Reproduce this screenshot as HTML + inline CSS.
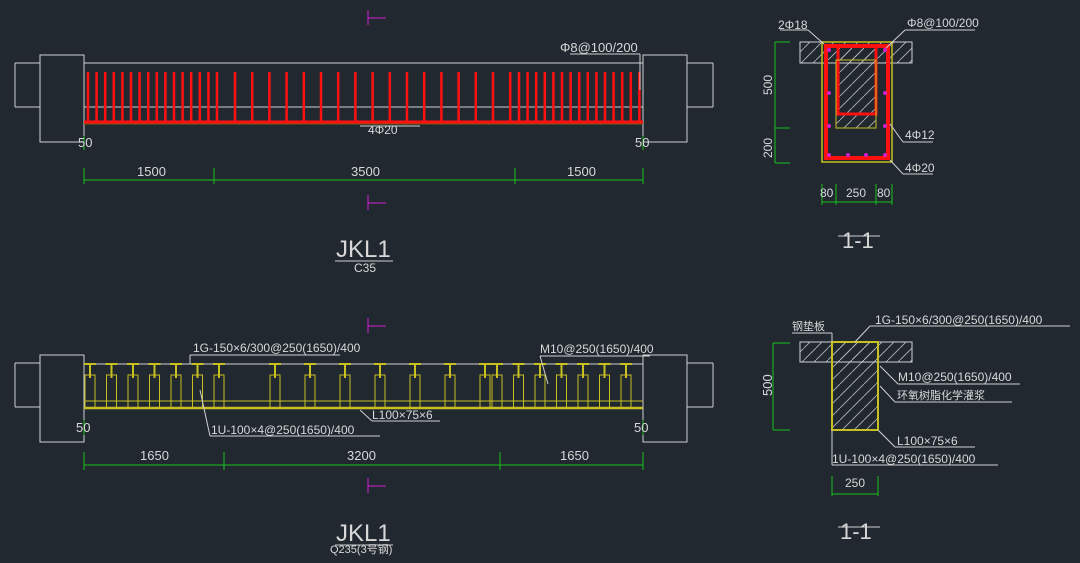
<!DOCTYPE html>
<html><head><meta charset="utf-8"><style>
html,body{margin:0;padding:0;background:#212830;width:1080px;height:563px;overflow:hidden}
svg{display:block}
text{font-family:"Liberation Sans","Noto Sans CJK SC",sans-serif;fill:#d8d8d8}
</style></head><body>
<svg id="s" width="1080" height="563" viewBox="0 0 1080 563" xmlns="http://www.w3.org/2000/svg">
<defs><pattern id="ht" width="12" height="12" patternUnits="userSpaceOnUse"><line x1="0" y1="12" x2="12" y2="0" stroke="#b8b8b8" stroke-width="0.8"/></pattern></defs>
<rect width="1080" height="563" fill="#212830"/>
<rect x="800" y="42" width="112" height="21" fill="url(#ht)"/>
<rect x="836" y="46" width="40" height="82" fill="url(#ht)"/>
<rect x="800" y="342" width="112" height="20" fill="url(#ht)"/>
<rect x="832" y="342" width="46" height="88" fill="url(#ht)"/>
<g id="g" fill="none" stroke-width="1"></g>
<g font-size="12" stroke="none">
<text x="560" y="52" font-size="13">Φ8@100/200</text>
<text x="368" y="134">4Φ20</text>
<text x="78" y="147" font-size="13">50</text>
<text x="635" y="147" font-size="13">50</text>
<text x="137" y="176" font-size="13">1500</text>
<text x="351" y="176" font-size="13">3500</text>
<text x="567" y="176" font-size="13">1500</text>
<text x="336" y="257" font-size="24">JKL1</text>
<text x="354" y="272" font-size="12">C35</text>
<text x="193" y="352">1G-150×6/300@250(1650)/400</text>
<text x="540" y="353">M10@250(1650)/400</text>
<text x="372" y="419">L100×75×6</text>
<text x="211" y="434">1U-100×4@250(1650)/400</text>
<text x="76" y="432" font-size="13">50</text>
<text x="634" y="432" font-size="13">50</text>
<text x="140" y="460" font-size="13">1650</text>
<text x="347" y="460" font-size="13">3200</text>
<text x="560" y="460" font-size="13">1650</text>
<text x="336" y="541" font-size="24">JKL1</text>
<text x="330" y="553" font-size="11">Q235(3号钢)</text>
<text x="778" y="29">2Φ18</text>
<text x="907" y="27">Φ8@100/200</text>
<text x="905" y="139">4Φ12</text>
<text x="905" y="172">4Φ20</text>
<text x="820" y="197">80</text><text x="846" y="197">250</text><text x="877" y="197">80</text>
<text x="842" y="248" font-size="22">1-1</text>
<text transform="translate(772,95) rotate(-90)">500</text>
<text transform="translate(772,158) rotate(-90)">200</text>
<text x="792" y="330" font-size="11">钢垫板</text>
<text x="875" y="324">1G-150×6/300@250(1650)/400</text>
<text x="898" y="381">M10@250(1650)/400</text>
<text x="897" y="399" font-size="11">环氧树脂化学灌浆</text>
<text x="897" y="445">L100×75×6</text>
<text x="832" y="463">1U-100×4@250(1650)/400</text>
<text x="772" y="396" transform="rotate(-90 772 396)" font-size="13">500</text>
<text x="845" y="487">250</text>
<text x="840" y="539" font-size="22">1-1</text>
</g>
</svg>
<script>
const g=document.getElementById('g');let h='';
const L=(x1,y1,x2,y2,c,w)=>{h+=`<line x1="${x1}" y1="${y1}" x2="${x2}" y2="${y2}" stroke="${c}" stroke-width="${w||1}"/>`};
const R=(x,y,w,hh,c,sw,f)=>{h+=`<rect x="${x}" y="${y}" width="${w}" height="${hh}" stroke="${c}" stroke-width="${sw||1}" fill="${f||'none'}"/>`};
const W='#d0d0d0',G='#18c018',Y='#c8c020',RD='#ff1010',M='#d020d0';
function col(y0){R(40,y0,44,87,W);L(15,y0+8,40,y0+8,W);L(15,y0+52,40,y0+52,W);L(15,y0+8,15,y0+52,W);
R(643,y0,44,87,W);L(687,y0+8,713,y0+8,W);L(687,y0+52,713,y0+52,W);L(713,y0+8,713,y0+52,W);}
col(55);L(84,63,643,63,W);L(84,107,643,107,W);
let xs=[];for(let x=88;x<=218;x+=8.6)xs.push(x);for(let x=235;x<515;x+=17.2)xs.push(x);for(let x=519;x<=640;x+=8.6)xs.push(x);
xs.forEach(x=>L(x,72,x,122,RD,2.5));L(84,122,643,122,RD,3);L(84,124,643,124,'#7a5a10',1);
L(570,54,640,54,W);L(640,54,640,90,W);L(360,126,420,126,W);
L(84,180,643,180,G);[84,214,515,643].forEach(x=>L(x,168,x,184,G));L(84,136,84,150,G);L(643,136,643,150,G);
[[368,10],[368,195],[368,318],[368,478]].forEach(([x,y])=>{L(x,y,x,y+15,M);L(x,y+8,x+18,y+8,M)});
L(335,261,393,261,W);L(335,545,393,545,W);
col(355);L(84,364,643,364,W);L(84,408,643,408,Y,2.5);L(84,401,643,401,Y);
let bs=[];for(let x=90;x<=240;x+=21.5)bs.push(x);for(let x=275;x<490;x+=35)bs.push(x);for(let x=497;x<=640;x+=21.5)bs.push(x);
bs.forEach(x=>{L(x-6,364,x+6,364,Y,2);L(x,364,x,378,Y,2);R(x-5,375,10,33,Y);});
L(190,355,340,355,W);L(190,355,190,364,W);L(540,356,650,356,W);L(540,356,548,384,W);
L(200,390,210,436,W);L(210,436,380,436,W);L(360,410,372,421,W);L(372,421,440,421,W);
L(84,465,643,465,G);[84,224,500,643].forEach(x=>L(x,452,x,470,G));L(84,420,84,435,G);L(643,420,643,435,G);
R(800,42,112,21,W);
R(822,42,70,120,Y,1.5);
R(826,46,62,112,RD,4);R(838,46,38,68,RD,3);R(836,60,40,68,Y,1);
[[829,50],[885,50],[829,93],[885,93],[829,126],[885,126],[829,155],[848,155],[866,155],[885,155]].forEach(([x,y])=>h+=`<circle cx="${x}" cy="${y}" r="2" fill="${M}"/>`);
L(775,42,775,163,G);L(775,42,790,42,G);L(775,128,790,128,G);L(775,163,790,163,G);
L(822,202,892,202,G);[822,836,876,892].forEach(x=>L(x,184,x,205,G));L(780,30,808,30,W);L(808,30,824,44,W);
L(905,30,975,30,W);L(905,30,886,48,W);L(890,124,903,142,W);L(903,142,933,142,W);L(890,160,903,174,W);L(903,174,933,174,W);
L(838,236,880,236,W);
R(800,342,112,20,W);
R(832,342,46,88,Y,2);
L(773,343,773,430,G);L(773,343,790,343,G);L(773,430,790,430,G);
L(832,494,878,494,G);L(832,476,832,496,G);L(878,476,878,496,G);
L(792,333,832,333,W);L(832,333,832,342,W);L(870,326,1070,326,W);L(870,326,855,342,W);
L(880,366,898,384,W);L(898,384,1020,384,W);L(880,386,895,402,W);L(895,402,1012,402,W);
L(878,430,895,447,W);L(895,447,975,447,W);L(832,430,832,465,W);L(832,465,998,465,W);
L(838,527,880,527,W);
g.innerHTML=h;
</script>
</body></html>
